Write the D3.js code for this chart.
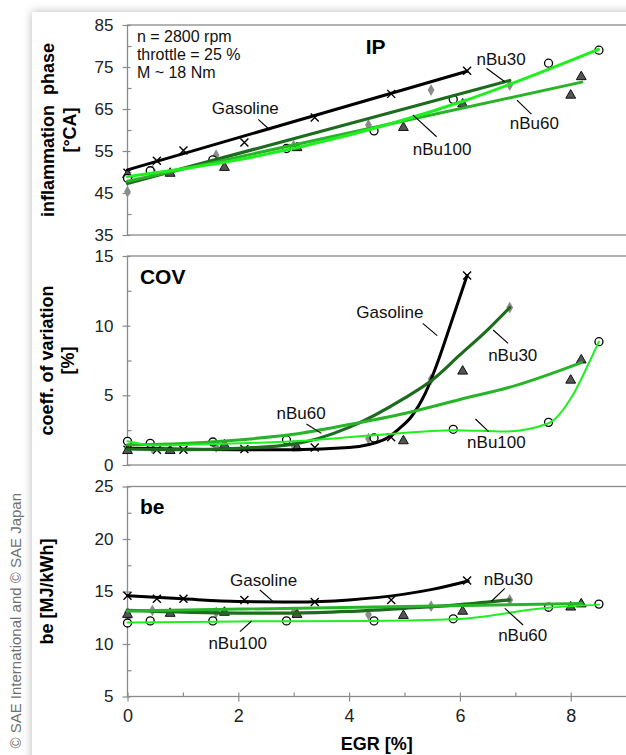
<!DOCTYPE html>
<html>
<head>
<meta charset="utf-8">
<script src="https://cdn.jsdelivr.net/npm/d3@7"></script>
<style>
  body { margin: 0; background: #fff; }
  text { font-family: "Liberation Sans", Arial, sans-serif; }
</style>
</head>
<body>
<div id="chart"></div>
<script>
// ---- measured points (EGR in %) ----
const egrGasoline = [0, 0.53, 1.01, 2.11, 3.38, 4.76, 6.13];
const egrNBu30 = [0, 0.45, 1.6, 3.0, 4.35, 5.48, 6.9];
const egrNBu60 = [0, 0.77, 1.75, 3.06, 4.98, 6.05, 8.0, 8.19];
const egrNBu100 = [0, 0.41, 1.54, 2.87, 4.45, 5.88, 7.6, 8.51];

// inflammation phase [°CA]
const ipGasoline = [49.8, 52.7, 55.1, 57.0, 63.0, 68.6, 74.1];
const ipNBu30 = [45.3, 50.4, 54.0, 56.3, 61.2, 69.5, 70.7];
const ipNBu60 = [49.6, 49.9, 51.3, 56.0, 60.8, 66.4, 68.5, 72.9];
const ipNBu100 = [48.5, 50.3, 52.9, 55.6, 59.8, 67.3, 75.9, 79.0];

// coefficient of variation [%]
const covGasoline = [1.1, 1.1, 1.1, 1.15, 1.25, 2.0, 13.6];
const covNBu30 = [1.2, 1.2, 1.3, 1.4, 1.9, 6.15, 11.3];
const covNBu60 = [1.1, 1.1, 1.5, 1.3, 1.8, 6.8, 6.15, 7.6];
const covNBu100 = [1.7, 1.55, 1.65, 1.8, 1.94, 2.56, 3.06, 8.85];

// be [MJ/kWh]
const beGasoline = [14.6, 14.3, 14.3, 14.2, 14.0, 14.2, 16.05];
const beNBu30 = [13.0, 13.2, 13.0, 13.0, 12.8, 13.6, 14.2];
const beNBu60 = [12.9, 13.0, 13.1, 12.9, 12.8, 13.2, 13.6, 13.9];
const beNBu100 = [12.0, 12.2, 12.2, 12.2, 12.2, 12.4, 13.5, 13.8];

// ---- trend lines [egr, value] ----
const fitIpGasoline = [[0, 50.5], [6.13, 74.0]];
const fitIpNBu30 = [[0, 47.3], [6.9, 71.8]];
const fitIpNBu60 = [[0, 47.8], [8.2, 71.4]];
const fitIpNBu100 = [[0, 48.9], [2, 52.9], [4, 58.8], [6, 66.6], [8.5, 79.2]];

const fitCovGasoline = [[0, 1.2], [2, 1.1], [3, 1.1], [4, 1.25], [4.62, 1.8], [4.9, 2.6], [5.13, 3.5], [5.37, 5.1], [5.61, 7.5], [5.85, 10.3], [6.13, 13.6]];
const fitCovNBu30 = [[0, 1.15], [1, 1.1], [2, 1.2], [3, 1.5], [4, 2.7], [5, 4.8], [5.5, 6.1], [6, 7.9], [6.5, 9.7], [6.9, 11.3]];
const fitCovNBu60 = [[0, 1.45], [1, 1.55], [2, 1.8], [3, 2.2], [4, 2.9], [5, 3.7], [6, 4.7], [7, 5.7], [8.19, 7.35]];
const fitCovNBu100 = [[0, 1.7], [0.5, 1.4], [1.5, 1.5], [3, 1.7], [4.5, 2.15], [5.9, 2.5], [6.8, 2.4], [7.6, 3.0], [8.05, 5.1], [8.35, 7.5], [8.51, 8.85]];

const fitBeGasoline = [[0, 14.6], [1, 14.3], [2, 14.05], [3, 14.0], [4, 14.2], [5, 14.75], [5.5, 15.2], [6.15, 16.0]];
const fitBeNBu30 = [[0, 13.2], [2, 12.95], [3, 12.95], [4, 13.1], [5, 13.4], [6, 13.75], [6.9, 14.2]];
const fitBeNBu60 = [[0, 13.15], [8.2, 13.85]];
const fitBeNBu100 = [[0, 12.05], [2, 12.15], [4.45, 12.2], [5.88, 12.35], [7.6, 13.45], [8.51, 13.75]];

// ---- axis ticks ----
const egrTicks = [0, 2, 4, 6, 8];
const egrMinor = [1, 3, 5, 7, 9];
const ipTicks = [35, 45, 55, 65, 75, 85];
const ipMinor = [40, 50, 60, 70, 80];
const covTicks = [0, 5, 10, 15];
const covMinor = [2.5, 7.5, 12.5];
const beTicks = [5, 10, 15, 20, 25];
const beMinor = [7.5, 12.5, 17.5, 22.5];

const fuels = ["Gasoline", "nBu30", "nBu60", "nBu100"];
const fuelEgr = [egrGasoline, egrNBu30, egrNBu60, egrNBu100];

const width = 626, height = 755;
const font = '"Liberation Sans", Arial, sans-serif';

const style = {
  Gasoline: { color: "#000000", marker: "x", lw: 3 },
  nBu30: { color: "#1d6c1d", marker: "diamond", lw: 3.2 },
  nBu60: { color: "#28b428", marker: "triangle", lw: 3 },
  nBu100: { color: "#1ef01e", marker: "circle", lw: 3 }
};

const svg = d3.select("#chart").append("svg")
  .attr("width", width).attr("height", height);

const defs = svg.append("defs");
const shadow = defs.append("filter").attr("id", "shadow")
  .attr("x", "-10%").attr("y", "-10%").attr("width", "120%").attr("height", "120%");
shadow.append("feDropShadow").attr("dx", 0).attr("dy", 0)
  .attr("stdDeviation", 5).attr("flood-color", "#000").attr("flood-opacity", 0.28);

svg.append("rect").attr("width", width).attr("height", height).attr("fill", "#fff");
svg.append("rect").attr("x", 32).attr("y", 12).attr("width", 640).attr("height", 780)
  .attr("fill", "#fff").attr("filter", "url(#shadow)");

// copyright
svg.append("text")
  .attr("transform", "translate(21,493) rotate(-90)")
  .attr("text-anchor", "end")
  .attr("font-size", 15).attr("fill", "#707070")
  .text("© SAE International and © SAE Japan");

const x = d3.scaleLinear().domain([0, 10]).range([127.5, 681.5]);

const panels = [
  {
    top: 25, bottom: 235, domain: [35, 85], ticks: ipTicks, minor: ipMinor,
    series: [ipGasoline, ipNBu30, ipNBu60, ipNBu100],
    fits: [fitIpGasoline, fitIpNBu30, fitIpNBu60, fitIpNBu100],
    thin: [],
    title: { text: "IP", x: 4.48, y: 80.0, anchor: "middle" },
    yTitle: ["inflammation  phase", "[°CA]"], yTitleX: [54, 76],
    notes: [
      { text: "n = 2800 rpm", x: 0.17, y: 82.4, size: 16 },
      { text: "throttle = 25 %", x: 0.17, y: 77.9, size: 16 },
      { text: "M ~ 18 Nm", x: 0.17, y: 73.6, size: 16 },
      { text: "nBu30", x: 6.3, y: 76.9 },
      { text: "Gasoline", x: 1.52, y: 65.2 },
      { text: "nBu60", x: 6.9, y: 61.6 },
      { text: "nBu100", x: 5.15, y: 55.4 }
    ],
    leaders: [[6.48, 74.7, 6.81, 71.5], [2.36, 62.55, 2.57, 60.0], [7.03, 67.1, 7.29, 63.8], [5.15, 63.6, 5.58, 58.4]]
  },
  {
    top: 256, bottom: 465, domain: [0, 15], ticks: covTicks, minor: covMinor,
    series: [covGasoline, covNBu30, covNBu60, covNBu100],
    fits: [fitCovGasoline, fitCovNBu30, fitCovNBu60, fitCovNBu100],
    thin: ["nBu100"],
    title: { text: "COV", x: 0.225, y: 13.56, anchor: "start" },
    yTitle: ["coeff. of variation", "[%]"], yTitleX: [53, 74],
    notes: [
      { text: "Gasoline", x: 4.13, y: 11.0 },
      { text: "nBu30", x: 6.51, y: 7.89 },
      { text: "nBu60", x: 2.69, y: 3.75 },
      { text: "nBu100", x: 6.13, y: 1.67 }
    ],
    leaders: [[5.33, 10.17, 5.59, 9.28], [6.6, 9.69, 6.87, 8.73], [3.23, 2.94, 3.5, 2.27], [6.28, 3.3, 6.52, 2.39]]
  },
  {
    top: 486.5, bottom: 696.5, domain: [5, 25], ticks: beTicks, minor: beMinor,
    series: [beGasoline, beNBu30, beNBu60, beNBu100],
    fits: [fitBeGasoline, fitBeNBu30, fitBeNBu60, fitBeNBu100],
    thin: ["nBu100"],
    title: { text: "be", x: 0.225, y: 23.08, anchor: "start" },
    yTitle: ["be [MJ/kWh]"], yTitleX: [53],
    notes: [
      { text: "Gasoline", x: 1.85, y: 16.1 },
      { text: "nBu30", x: 6.43, y: 16.19 },
      { text: "nBu60", x: 6.69, y: 10.86 },
      { text: "nBu100", x: 1.46, y: 10.07 }
    ],
    leaders: [[2.39, 15.14, 2.63, 14.03], [6.81, 15.3, 6.57, 14.07], [6.81, 13.4, 7.14, 11.81], [2.24, 12.19, 2.03, 11.17]],
    xAxis: true
  }
];

function drawMarker(g, type, px, py) {
  if (type === "x") {
    g.append("path")
      .attr("d", `M${px - 4},${py - 4}L${px + 4},${py + 4}M${px - 4},${py + 4}L${px + 4},${py - 4}`)
      .attr("stroke", "#000").attr("stroke-width", 1.4).attr("fill", "none");
  } else if (type === "circle") {
    g.append("circle").attr("cx", px).attr("cy", py).attr("r", 4)
      .attr("fill", "#fff").attr("stroke", "#000").attr("stroke-width", 1.3);
  } else if (type === "triangle") {
    g.append("path").attr("d", d3.symbol(d3.symbolTriangle, 42)())
      .attr("transform", `translate(${px},${py + 1})`)
      .attr("fill", "#555").attr("stroke", "#111").attr("stroke-width", 1);
  } else {
    g.append("path").attr("d", d3.symbol(d3.symbolDiamond, 40)())
      .attr("transform", `translate(${px},${py})`)
      .attr("fill", "#8c8c8c");
  }
}

panels.forEach(p => {
  const y = d3.scaleLinear().domain(p.domain).range([p.bottom, p.top]);
  const g = svg.append("g");

  g.append("rect")
    .attr("x", x(0)).attr("y", p.top)
    .attr("width", x(10) - x(0)).attr("height", p.bottom - p.top)
    .attr("fill", "none").attr("stroke", "#8a8a8a").attr("stroke-width", 1.3);

  // y axis: major ticks cross the line, minor ticks inside
  const yAxis = g.append("g")
    .attr("transform", `translate(${x(0)},0)`)
    .call(d3.axisLeft(y).tickValues(p.ticks).tickSizeInner(5).tickSizeOuter(0).tickPadding(9));
  yAxis.select(".domain").remove();
  yAxis.selectAll(".tick line").attr("x2", -5).attr("x1", 3).attr("stroke", "#8a8a8a").attr("stroke-width", 1.2);
  yAxis.selectAll(".tick text").attr("font-size", 17).attr("font-family", font).attr("fill", "#222");

  const yMinor = g.append("g")
    .attr("transform", `translate(${x(0)},0)`)
    .call(d3.axisRight(y).tickValues(p.minor).tickSize(4).tickFormat(""));
  yMinor.select(".domain").remove();
  yMinor.selectAll(".tick line").attr("stroke", "#8a8a8a").attr("stroke-width", 1.2);

  if (p.xAxis) {
    const xAxis = g.append("g")
      .attr("transform", `translate(0,${p.bottom})`)
      .call(d3.axisBottom(x).tickValues(egrTicks).tickSizeInner(5).tickSizeOuter(0).tickPadding(8));
    xAxis.select(".domain").remove();
    xAxis.selectAll(".tick line").attr("y1", -4).attr("y2", 5).attr("stroke", "#8a8a8a").attr("stroke-width", 1.2);
    xAxis.selectAll(".tick text").attr("font-size", 18).attr("font-family", font).attr("fill", "#222");
    const xMinor = g.append("g")
      .attr("transform", `translate(0,${p.bottom})`)
      .call(d3.axisTop(x).tickValues(egrMinor).tickSize(4).tickFormat(""));
    xMinor.select(".domain").remove();
    xMinor.selectAll(".tick line").attr("stroke", "#8a8a8a").attr("stroke-width", 1.2);

    g.append("text")
      .attr("x", 376.7).attr("y", 750)
      .attr("text-anchor", "middle")
      .attr("font-size", 18).attr("font-weight", "bold")
      .text("EGR [%]");
  }

  // y titles
  const cy = (p.top + p.bottom) / 2;
  p.yTitle.forEach((t, i) => {
    g.append("text")
      .attr("transform", `translate(${p.yTitleX[i]},${cy}) rotate(-90)`)
      .attr("text-anchor", "middle")
      .attr("font-size", 18).attr("font-weight", "bold")
      .style("white-space", "pre")
      .text(t);
  });

  // markers
  fuels.forEach((f, i) => {
    const mk = g.append("g");
    fuelEgr[i].forEach((e, j) => drawMarker(mk, style[f].marker, x(e), y(p.series[i][j])));
  });

  // trend lines
  fuels.forEach((f, i) => {
    const line = d3.line()
      .x(d => x(d[0])).y(d => y(d[1]))
      .curve(d3.curveMonotoneX);
    g.append("path")
      .datum(p.fits[i])
      .attr("d", line)
      .attr("fill", "none")
      .attr("stroke", style[f].color)
      .attr("stroke-width", p.thin.includes(f) ? 2 : style[f].lw)
      .attr("stroke-linecap", "round");
  });

  // leaders and labels
  p.leaders.forEach(l => {
    g.append("line")
      .attr("x1", x(l[0])).attr("y1", y(l[1]))
      .attr("x2", x(l[2])).attr("y2", y(l[3]))
      .attr("stroke", "#000").attr("stroke-width", 1.1);
  });
  p.notes.forEach(n => {
    g.append("text")
      .attr("x", x(n.x)).attr("y", y(n.y))
      .attr("dy", "0.35em")
      .attr("font-size", n.size || 17)
      .attr("fill", "#111")
      .text(n.text);
  });

  g.append("text")
    .attr("x", x(p.title.x)).attr("y", y(p.title.y))
    .attr("dy", "0.36em")
    .attr("text-anchor", p.title.anchor)
    .attr("font-size", 21).attr("font-weight", "bold")
    .text(p.title.text);
});
</script>
</body>
</html>
